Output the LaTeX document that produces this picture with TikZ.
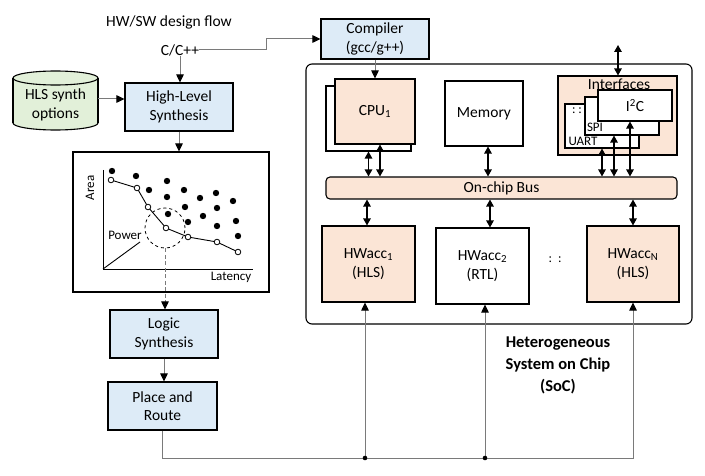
\documentclass[tikz,border=0pt]{standalone}
\usepackage{fontspec}
\setmainfont{Carlito}
\usetikzlibrary{arrows.meta}
\definecolor{blu}{HTML}{DDEBF7}
\definecolor{peach}{HTML}{FBE5D6}
\definecolor{grn}{HTML}{E2F0D9}
\definecolor{lgray}{HTML}{7A7A7A}
\begin{document}
\begin{tikzpicture}[x=1pt,y=-1pt,
  every node/.style={font=\fontsize{15.5}{18.5}\selectfont, inner sep=0pt},
  bx/.style={draw, line width=1.1pt, align=center},
  bluebox/.style={bx, fill=blu, minimum width=108pt, minimum height=48pt},
  peachbox/.style={bx, fill=peach},
  whitebox/.style={bx, fill=white},
  gtip/.style={-{Triangle[length=8pt,width=7.5pt,color=black]}},
  glink/.style={lgray, line width=1pt, gtip},
  dbl/.style={black, line width=1.3pt, {Triangle[length=7pt,width=7.5pt]}-{Triangle[length=7pt,width=7.5pt]}},
  small/.style={font=\fontsize{13}{15}\selectfont},
  opendot/.style={draw=black, fill=white, line width=0.8pt},
]
\useasboundingbox (0,0) rectangle (705,476);

% ---------- left flow ----------
\node (title) at (169,22) {HW/SW design flow};
\node (cpp) at (180,50) {C/C++};
\node[bluebox] (hls) at (179,107) {High-Level\\Synthesis};

% cylinder
\filldraw[fill=grn, line width=1.1pt] (55.5,123) ellipse [x radius=42.5pt, y radius=7pt];
\fill[grn] (13,78) rectangle (98,123);
\draw[line width=1.1pt] (13,78) -- (13,123) (98,78) -- (98,123);
\filldraw[fill=grn, line width=1.1pt] (55.5,78) ellipse [x radius=42.5pt, y radius=7pt];
\node[minimum width=85pt, align=center] (opt) at (55.5,105) {HLS synth\\options};

\draw[glink] (cpp.south) -- (cpp.south |- hls.north);
\draw[glink] ([yshift=6pt]opt.east) -- ([yshift=6pt]opt.east -| hls.west);

% chart
\node[bx, minimum width=196pt, minimum height=140pt] (chart) at (171,222) {};
\draw[glink] (hls.south) -- (hls.south |- chart.north);
\coordinate (org) at (103,269);
\coordinate (ytop) at (103,170);
\coordinate (xend) at (253,269);
\coordinate (pw) at (140,242);
\draw[line width=0.9pt] (ytop) -- (org) -- (xend);
\draw[line width=0.9pt] (org) -- (pw);
\node[small, rotate=90] (area) at (90,188) {Area};
\node[small] (lat) at (231,277) {Latency};
\node[small] (pow) at (125,235) {Power};
\node[draw, dashed, circle, minimum size=40pt, line width=0.8pt] (focus) at (165,228) {};
\foreach \p in {(112,171),(136,176),(167,181),(149,190),(167,197),(184,190),(200,198),(216,193),(233,201),(185,207),(168,214),(203,216),(217,208),(236,221),(188,222),(217,226),(238,236)}
  \fill \p circle (3.2pt);
\draw[line width=0.9pt] (111,180) -- (137,188) -- (148,207) -- (166,228) -- (188,237) -- (217,242) -- (238,252);
\foreach \p in {(111,180),(137,188),(148,207),(166,228),(188,237),(217,242),(238,252)}
  \filldraw[opendot] \p circle (2.8pt);

\node[bluebox] (logic) at (164,334) {Logic\\Synthesis};
\node[bluebox, minimum width=109pt] (pr) at (162.5,406) {Place and\\Route};
\draw[lgray, line width=1pt, dash pattern=on 4pt off 2.5pt, gtip] (focus.south) -- (focus.south |- logic.north);
\draw[glink] (logic.south) -- (logic.south |- pr.north);

% ---------- SoC ----------
\node[bluebox, minimum height=40pt] (cmp) at (375,39) {Compiler\\(gcc/g++)};
\draw[glink] (cpp.east) -- ++(67,0) |- (cmp.west);

\node[draw, line width=1.1pt, rounded corners=6pt, minimum width=386pt, minimum height=260pt] (soc) at (499,194) {};

\node[whitebox, minimum width=85pt, minimum height=65pt] (cpuback) at (368.5,118.5) {};
\node[peachbox, minimum width=80pt, minimum height=65pt] (cpu) at (375,111.5) {CPU\textsubscript{1}};
\draw[glink] (cmp.south) -- (cmp.south |- cpu.north);

\node[whitebox, minimum width=78pt, minimum height=65pt] (mem) at (484,113.5) {Memory};

\node[peachbox, minimum width=119pt, minimum height=79pt] (intf) at (617.5,115.5) {};
\node (intft) at (619,84) {Interfaces};
\node[whitebox, minimum width=74pt, minimum height=44pt] (uart) at (602,126) {};
\node[small] (uartt) at (583,141) {UART};
\node[small] (dots1) at (577,111) {:\hspace{3pt}:};
\node[whitebox, minimum width=74pt, minimum height=38pt] (spi) at (622,116) {};
\node[small] (spit) at (595,127.5) {SPI};
\node[whitebox, minimum width=74pt, minimum height=31pt] (iic) at (635,105.5) {I\textsuperscript{2}C};

\node[peachbox, rounded corners=4pt, minimum width=351pt, minimum height=22pt] (bus) at (501.5,188) {On-chip Bus};

\node[peachbox, minimum width=93pt, minimum height=76pt] (hw1) at (368.5,264) {HWacc\textsubscript{1}\\(HLS)};
\node[whitebox, minimum width=93pt, minimum height=76pt] (hw2) at (482.5,266) {HWacc\textsubscript{2}\\(RTL)};
\node[peachbox, minimum width=92pt, minimum height=76pt] (hwn) at (633,264) {HWacc\textsubscript{N}\\(HLS)};
\node[small] (dots2) at (555,260) {:\hspace{6pt}:};

% double arrows
\draw[dbl] (cpuback.south) -- (cpuback.south |- bus.north);
\draw[dbl] ([xshift=5pt]cpu.south) -- ([xshift=5pt]cpu.south |- bus.north);
\draw[dbl] ([xshift=4pt]mem.south) -- ([xshift=4pt]mem.south |- bus.north);
\draw[dbl] (uart.south) -- (uart.south |- bus.north);
\draw[dbl] ([xshift=-8pt]spi.south) -- ([xshift=-8pt]spi.south |- bus.north);
\draw[dbl] ([xshift=-5pt]iic.south) -- ([xshift=-5pt]iic.south |- bus.north);
\coordinate (ext) at (618,45);
\draw[dbl] (ext) -- (ext |- intf.north);
\draw[dbl] ([xshift=-1.5pt]hw1.north) -- ([xshift=-1.5pt]hw1.north |- bus.south);
\draw[dbl] ([xshift=7.5pt]hw2.north) -- ([xshift=7.5pt]hw2.north |- bus.south);
\draw[dbl] (hwn.north) -- (hwn.north |- bus.south);

\node[font=\bfseries\fontsize{16.5}{22}\selectfont, align=center] (soct) at (558,365) {Heterogeneous\\System on Chip\\(SoC)};

% bottom feed
\coordinate (j1) at (365,458);
\coordinate (j2) at (485,458);
\coordinate (j3) at (633,458);
\draw[glink] (pr.south) |- (j3) -- (j3 |- hwn.south);
\draw[glink] (j1) -- (j1 |- hw1.south);
\draw[glink] (j2) -- (j2 |- hw2.south);
\fill (j1) circle (2.3pt);
\fill (j2) circle (2.3pt);
\end{tikzpicture}
\end{document}
